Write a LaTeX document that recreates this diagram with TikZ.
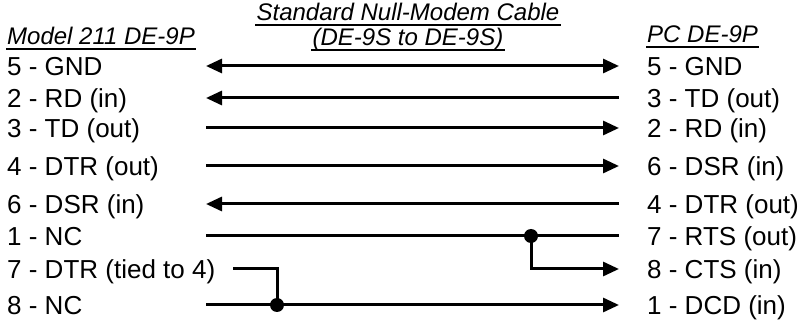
\documentclass[tikz,border=0pt]{standalone}
\usepackage{fontspec}
\setmainfont{Liberation Sans}
\usetikzlibrary{arrows.meta}
\tikzset{
  pinlbl/.style = {anchor=west, inner sep=0pt, text height=19pt, text depth=0pt,
    font=\fontsize{26}{30}\selectfont},% broche du connecteur
  titlelbl/.style = {inner sep=0pt, font=\fontsize{24}{28}\selectfont\itshape},% titre
  uline/.style = {line width=1.8pt, shorten >=-1pt, shorten <=-1pt},% soulignement
  wire/.style = {line width=3pt},% fil du cable
  junction/.style = {circle, fill=black, inner sep=0pt, minimum size=14pt}% point de jonction
}

\begin{document}
\begin{tikzpicture}[x=1pt,y=-1pt,>={Triangle[length=16pt,width=14pt]}]
\useasboundingbox (0,0) rectangle (804,323);
% titres
\node [titlelbl, anchor=base west] (tleft) at (7,45) {Model 211 DE-9P};
\node [titlelbl, anchor=base] (tmid) at (408,21) {Standard Null-Modem Cable};
\node [titlelbl, anchor=base] (tmid2) at (408,46) {(DE-9S to DE-9S)};
\node [titlelbl, anchor=base west] (tright) at (647,43) {PC DE-9P};
\foreach \t in {tleft,tmid,tmid2,tright}
  \draw [uline] ([yshift=-4pt]\t.base west) -- ([yshift=-4pt]\t.base east);
% broches, cote Model 211
\node [pinlbl] (L1) at (7,66) {5 - GND};
\node [pinlbl] (L2) at (7,98) {2 - RD (in)};
\node [pinlbl] (L3) at (7,128) {3 - TD (out)};
\node [pinlbl] (L4) at (7,166) {4 - DTR (out)};
\node [pinlbl] (L5) at (7,204) {6 - DSR (in)};
\node [pinlbl] (L6) at (7,236) {1 - NC};
\node [pinlbl] (L7) at (7,269) {7 - DTR (tied to 4)};
\node [pinlbl] (L8) at (7,305) {8 - NC};
% broches, cote PC
\node [pinlbl] (R1) at (647,66) {5 - GND};
\node [pinlbl] (R2) at (647,98) {3 - TD (out)};
\node [pinlbl] (R3) at (647,128) {2 - RD (in)};
\node [pinlbl] (R4) at (647,166) {6 - DSR (in)};
\node [pinlbl] (R5) at (647,204) {4 - DTR (out)};
\node [pinlbl] (R6) at (647,236) {7 - RTS (out)};
\node [pinlbl] (R7) at (647,269) {8 - CTS (in)};
\node [pinlbl] (R8) at (647,305) {1 - DCD (in)};
% colonnes des fils
\coordinate (xl) at (206,0);
\coordinate (xr) at (619,0);
\coordinate (xt) at (233,0);
\coordinate (xa) at (277,0);
\coordinate (xb) at (531,0);
\node [junction] (j1) at (L6 -| xb) {};
\node [junction] (j2) at (L8 -| xa) {};
% fils
\draw [wire,<->] (L1 -| xl) -- (R1 -| xr);
\draw [wire,<-] (L2 -| xl) -- (R2 -| xr);
\draw [wire,->] (L3 -| xl) -- (R3 -| xr);
\draw [wire,->] (L4 -| xl) -- (R4 -| xr);
\draw [wire,<-] (L5 -| xl) -- (R5 -| xr);
\draw [wire] (L6 -| xl) -- (R6 -| xr);
\draw [wire,->] (j1.center) |- (R7 -| xr);
\draw [wire] (L7 -| xt) -| (j2.center);
\draw [wire,->] (L8 -| xl) -- (R8 -| xr);
\end{tikzpicture}
\end{document}
